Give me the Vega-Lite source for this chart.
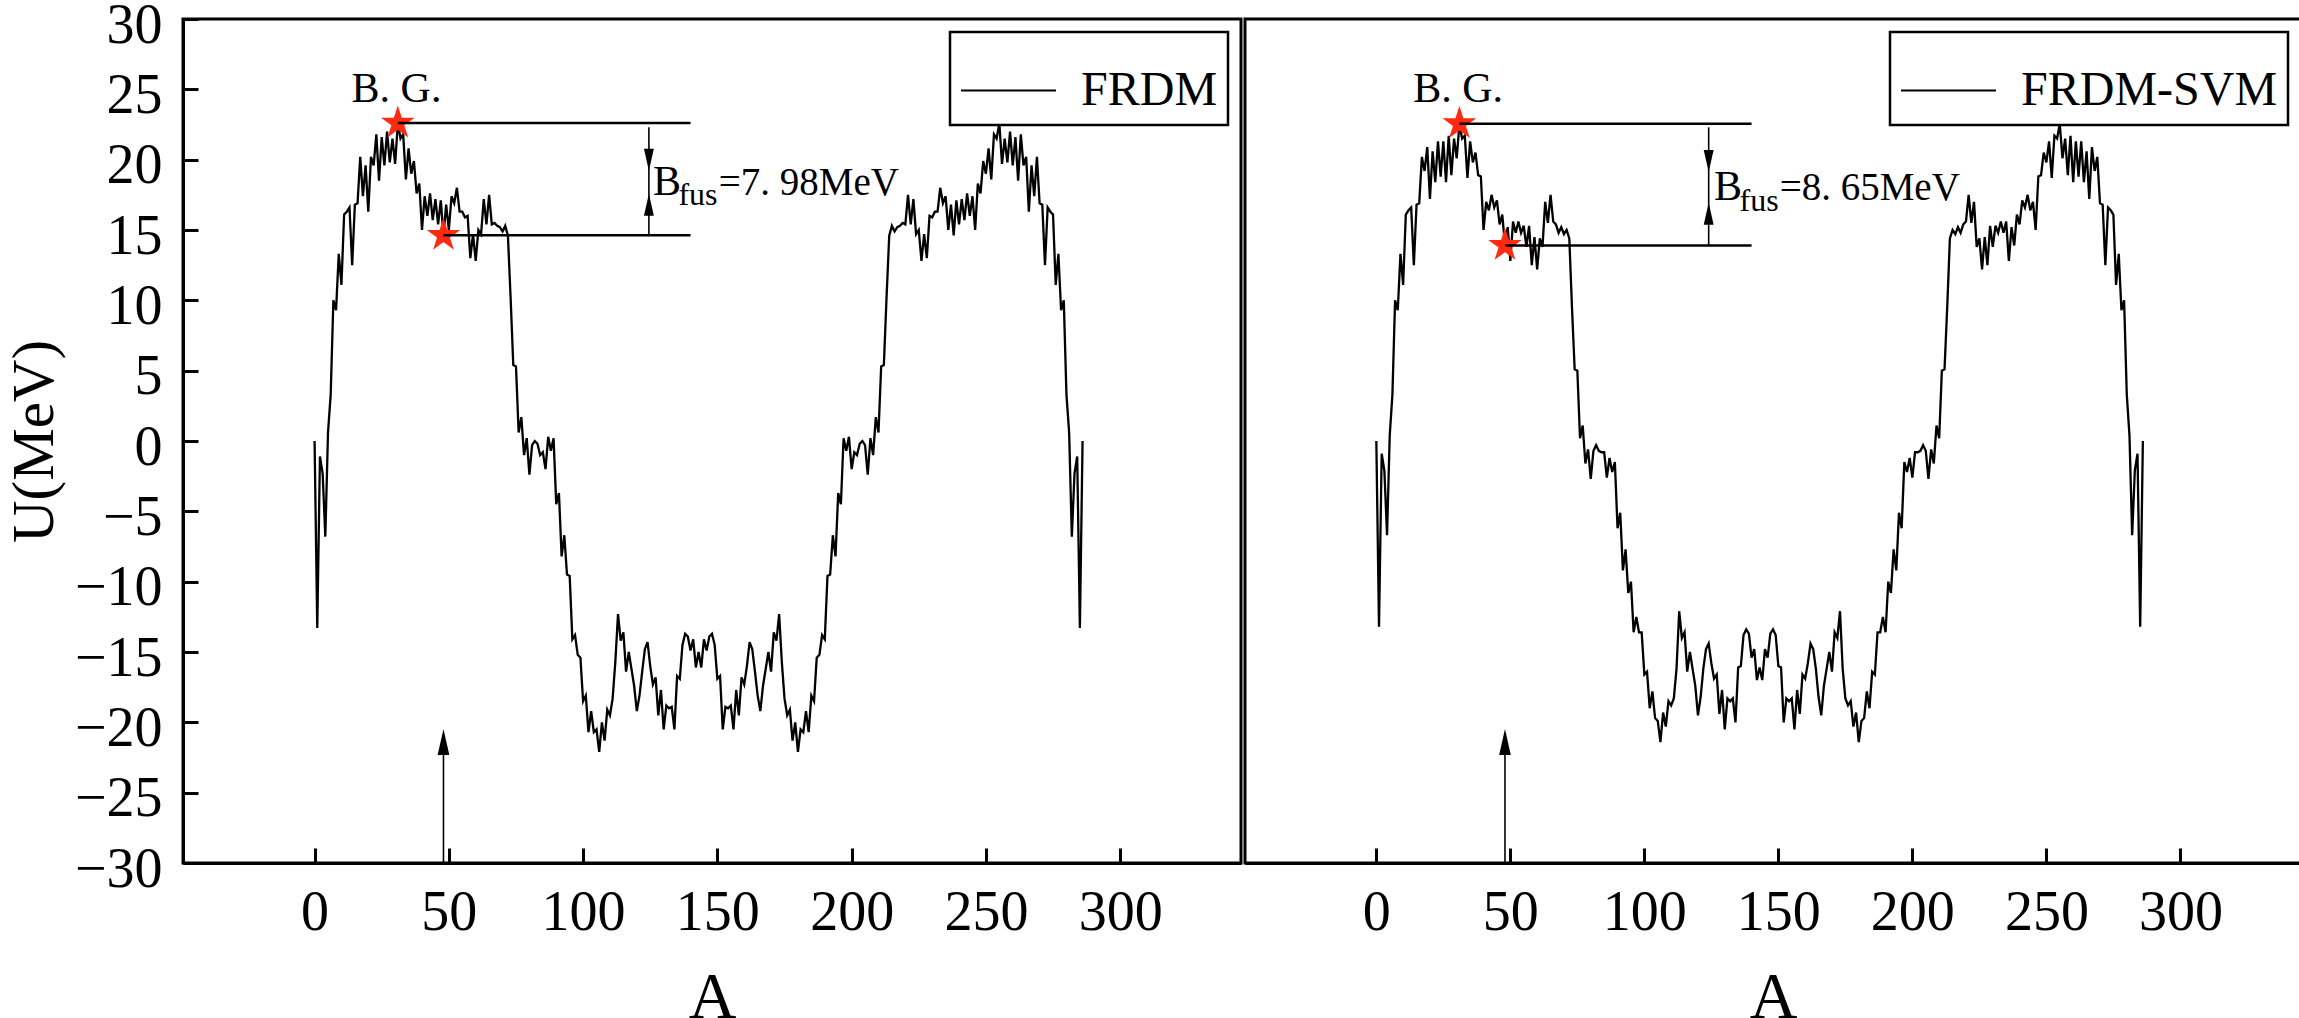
{
"$schema": "https://vega.github.io/schema/vega-lite/v6.json",
"background": "white",
"padding": {"left": 3, "top": -5, "right": 4, "bottom": -12},
"spacing": 0,
"resolve": {"scale": {"color": "independent"}, "legend": {"color": "independent"}},
"config": {
  "view": {"stroke": "black", "strokeWidth": 3},
  "axis": {"grid": false, "domainColor": "black", "domainWidth": 3, "tickColor": "black", "tickWidth": 3, "tickSize": -15,
           "labelFont": "Liberation Serif", "labelFontSize": 56, "labelColor": "black",
           "titleFont": "Liberation Serif", "titleColor": "black", "titleFontWeight": "normal"},
  "axisX": {"labelPadding": 37, "titleFontSize": 66, "titlePadding": 25},
  "axisY": {"labelPadding": 36, "labelOffset": 6, "titleFontSize": 59, "titlePadding": 10},
  "legend": {"orient": "top-right", "offset": 13, "strokeColor": "black", "strokeWidth": 2.5, "fillColor": "white", "padding": 10,
             "symbolType": "stroke", "symbolSize": 9025, "symbolStrokeWidth": 2, "symbolStrokeColor": "black",
             "labelFont": "Liberation Serif", "labelFontSize": 48, "labelColor": "black", "labelOffset": 24, "labelLimit": 0}
},
"datasets": {
  "frdm": [
    {"A":0,"U":0},{"A":1,"U":-13.3},{"A":2,"U":-1.1},{"A":3,"U":-2.3},{"A":4,"U":-6.8},{"A":5,"U":0.6},{"A":6,"U":3.3},{"A":7,"U":10.0},{"A":8,"U":9.3},{"A":9,"U":13.3},
    {"A":10,"U":11.1},{"A":11,"U":16.1},{"A":12,"U":16.3},{"A":13,"U":16.6},{"A":14,"U":12.5},{"A":15,"U":16.8},{"A":16,"U":16.9},{"A":17,"U":20.2},{"A":18,"U":17.4},{"A":19,"U":19.6},
    {"A":20,"U":16.3},{"A":21,"U":20.2},{"A":22,"U":19.6},{"A":23,"U":21.8},{"A":24,"U":18.5},{"A":25,"U":21.6},{"A":26,"U":19.6},{"A":27,"U":22.0},{"A":28,"U":19.8},{"A":29,"U":21.5},
    {"A":30,"U":19.7},{"A":31,"U":22.6},{"A":32,"U":21.5},{"A":33,"U":21.8},{"A":34,"U":18.6},{"A":35,"U":20.8},{"A":36,"U":19.0},{"A":37,"U":19.9},{"A":38,"U":17.6},{"A":39,"U":18.3},
    {"A":40,"U":15.0},{"A":41,"U":17.4},{"A":42,"U":16.0},{"A":43,"U":17.6},{"A":44,"U":15.7},{"A":45,"U":17.2},{"A":46,"U":15.4},{"A":47,"U":17.1},{"A":48,"U":14.62},{"A":49,"U":16.8},
    {"A":50,"U":15.0},{"A":51,"U":17.4},{"A":52,"U":16.9},{"A":53,"U":18.0},{"A":54,"U":16.3},{"A":55,"U":16.3},{"A":56,"U":15.9},{"A":57,"U":16.0},{"A":58,"U":13.0},{"A":59,"U":14.7},
    {"A":60,"U":12.8},{"A":61,"U":15.0},{"A":62,"U":14.7},{"A":63,"U":17.2},{"A":64,"U":15.4},{"A":65,"U":17.5},{"A":66,"U":15.4},{"A":67,"U":15.5},{"A":68,"U":15.3},{"A":69,"U":15.2},
    {"A":70,"U":14.9},{"A":71,"U":15.3},{"A":72,"U":14.6},{"A":73,"U":10.2},{"A":74,"U":5.4},{"A":75,"U":5.3},{"A":76,"U":0.6},{"A":77,"U":1.7},{"A":78,"U":-1.0},{"A":79,"U":0.2},
    {"A":80,"U":-2.4},{"A":81,"U":-0.3},{"A":82,"U":0.0},{"A":83,"U":-0.2},{"A":84,"U":-1.0},{"A":85,"U":-0.8},{"A":86,"U":-2.0},{"A":87,"U":0.3},{"A":88,"U":-0.7},{"A":89,"U":0.2},
    {"A":90,"U":-4.5},{"A":91,"U":-3.7},{"A":92,"U":-8.2},{"A":93,"U":-6.7},{"A":94,"U":-9.5},{"A":95,"U":-9.6},{"A":96,"U":-14.1},{"A":97,"U":-13.8},{"A":98,"U":-15.2},{"A":99,"U":-15.4},
    {"A":100,"U":-18.5},{"A":101,"U":-18.1},{"A":102,"U":-20.7},{"A":103,"U":-19.2},{"A":104,"U":-20.7},{"A":105,"U":-20.5},{"A":106,"U":-22.1},{"A":107,"U":-20.0},{"A":108,"U":-21.3},{"A":109,"U":-19.1},
    {"A":110,"U":-19.5},{"A":111,"U":-18.3},{"A":112,"U":-15.7},{"A":113,"U":-12.3},{"A":114,"U":-14.2},{"A":115,"U":-13.6},{"A":116,"U":-16.4},{"A":117,"U":-15.0},{"A":118,"U":-16.2},{"A":119,"U":-17.4},
    {"A":120,"U":-19.2},{"A":121,"U":-18.1},{"A":122,"U":-16.4},{"A":123,"U":-14.8},{"A":124,"U":-14.3},{"A":125,"U":-16.0},{"A":126,"U":-17.3},{"A":127,"U":-16.8},{"A":128,"U":-19.5},{"A":129,"U":-17.7},
    {"A":130,"U":-20.5},{"A":131,"U":-18.8},{"A":132,"U":-19.0},{"A":133,"U":-18.9},{"A":134,"U":-20.5},{"A":135,"U":-16.7},{"A":136,"U":-16.9},{"A":137,"U":-14.5},{"A":138,"U":-13.7},{"A":139,"U":-13.9},
    {"A":140,"U":-14.9},{"A":141,"U":-14.1},{"A":142,"U":-16.1},{"A":143,"U":-15.0},{"A":144,"U":-16.1},{"A":145,"U":-14.1},{"A":146,"U":-14.9},{"A":147,"U":-13.9},{"A":148,"U":-13.7},{"A":149,"U":-14.5},
    {"A":150,"U":-16.9},{"A":151,"U":-16.7},{"A":152,"U":-20.5},{"A":153,"U":-18.9},{"A":154,"U":-19.0},{"A":155,"U":-18.8},{"A":156,"U":-20.5},{"A":157,"U":-17.7},{"A":158,"U":-19.5},{"A":159,"U":-16.8},
    {"A":160,"U":-17.3},{"A":161,"U":-16.0},{"A":162,"U":-14.3},{"A":163,"U":-14.8},{"A":164,"U":-16.4},{"A":165,"U":-18.1},{"A":166,"U":-19.2},{"A":167,"U":-17.4},{"A":168,"U":-16.2},{"A":169,"U":-15.0},
    {"A":170,"U":-16.4},{"A":171,"U":-13.6},{"A":172,"U":-14.2},{"A":173,"U":-12.3},{"A":174,"U":-15.7},{"A":175,"U":-18.3},{"A":176,"U":-19.5},{"A":177,"U":-19.1},{"A":178,"U":-21.3},{"A":179,"U":-20.0},
    {"A":180,"U":-22.1},{"A":181,"U":-20.5},{"A":182,"U":-20.7},{"A":183,"U":-19.2},{"A":184,"U":-20.7},{"A":185,"U":-18.1},{"A":186,"U":-18.5},{"A":187,"U":-15.4},{"A":188,"U":-15.2},{"A":189,"U":-13.8},
    {"A":190,"U":-14.1},{"A":191,"U":-9.6},{"A":192,"U":-9.5},{"A":193,"U":-6.7},{"A":194,"U":-8.2},{"A":195,"U":-3.7},{"A":196,"U":-4.5},{"A":197,"U":0.2},{"A":198,"U":-0.7},{"A":199,"U":0.3},
    {"A":200,"U":-2.0},{"A":201,"U":-0.8},{"A":202,"U":-1.0},{"A":203,"U":-0.2},{"A":204,"U":0.0},{"A":205,"U":-0.3},{"A":206,"U":-2.4},{"A":207,"U":0.2},{"A":208,"U":-1.0},{"A":209,"U":1.7},
    {"A":210,"U":0.6},{"A":211,"U":5.3},{"A":212,"U":5.4},{"A":213,"U":10.2},{"A":214,"U":14.6},{"A":215,"U":15.3},{"A":216,"U":14.9},{"A":217,"U":15.2},{"A":218,"U":15.3},{"A":219,"U":15.5},
    {"A":220,"U":15.4},{"A":221,"U":17.5},{"A":222,"U":15.4},{"A":223,"U":17.2},{"A":224,"U":14.7},{"A":225,"U":15.0},{"A":226,"U":12.8},{"A":227,"U":14.7},{"A":228,"U":13.0},{"A":229,"U":16.0},
    {"A":230,"U":15.9},{"A":231,"U":16.3},{"A":232,"U":16.3},{"A":233,"U":18.0},{"A":234,"U":16.9},{"A":235,"U":17.4},{"A":236,"U":15.0},{"A":237,"U":16.8},{"A":238,"U":14.62},{"A":239,"U":17.1},
    {"A":240,"U":15.4},{"A":241,"U":17.2},{"A":242,"U":15.7},{"A":243,"U":17.6},{"A":244,"U":16.0},{"A":245,"U":17.4},{"A":246,"U":15.0},{"A":247,"U":18.3},{"A":248,"U":17.6},{"A":249,"U":19.9},
    {"A":250,"U":19.0},{"A":251,"U":20.8},{"A":252,"U":18.6},{"A":253,"U":21.8},{"A":254,"U":21.5},{"A":255,"U":22.6},{"A":256,"U":19.7},{"A":257,"U":21.5},{"A":258,"U":19.8},{"A":259,"U":22.0},
    {"A":260,"U":19.6},{"A":261,"U":21.6},{"A":262,"U":18.5},{"A":263,"U":21.8},{"A":264,"U":19.6},{"A":265,"U":20.2},{"A":266,"U":16.3},{"A":267,"U":19.6},{"A":268,"U":17.4},{"A":269,"U":20.2},
    {"A":270,"U":16.9},{"A":271,"U":16.8},{"A":272,"U":12.5},{"A":273,"U":16.6},{"A":274,"U":16.3},{"A":275,"U":16.1},{"A":276,"U":11.1},{"A":277,"U":13.3},{"A":278,"U":9.3},{"A":279,"U":10.0},
    {"A":280,"U":3.3},{"A":281,"U":0.6},{"A":282,"U":-6.8},{"A":283,"U":-2.3},{"A":284,"U":-1.1},{"A":285,"U":-13.3},{"A":286,"U":0}
  ],
  "svm": [
    {"A":0,"U":0},{"A":1,"U":-13.2},{"A":2,"U":-0.9},{"A":3,"U":-2.1},{"A":4,"U":-6.7},{"A":5,"U":0.4},{"A":6,"U":3.3},{"A":7,"U":10.0},{"A":8,"U":9.3},{"A":9,"U":13.3},
    {"A":10,"U":11.1},{"A":11,"U":16.1},{"A":12,"U":16.4},{"A":13,"U":16.6},{"A":14,"U":12.5},{"A":15,"U":16.8},{"A":16,"U":16.9},{"A":17,"U":20.2},{"A":18,"U":19.2},{"A":19,"U":20.9},
    {"A":20,"U":17.2},{"A":21,"U":20.6},{"A":22,"U":18.4},{"A":23,"U":21.3},{"A":24,"U":18.8},{"A":25,"U":21.3},{"A":26,"U":18.4},{"A":27,"U":21.7},{"A":28,"U":18.9},{"A":29,"U":21.5},
    {"A":30,"U":20.1},{"A":31,"U":22.55},{"A":32,"U":21.5},{"A":33,"U":21.7},{"A":34,"U":18.7},{"A":35,"U":21.3},{"A":36,"U":19.8},{"A":37,"U":20.5},{"A":38,"U":18.9},{"A":39,"U":18.8},
    {"A":40,"U":15.0},{"A":41,"U":17.0},{"A":42,"U":16.4},{"A":43,"U":17.5},{"A":44,"U":16.6},{"A":45,"U":17.1},{"A":46,"U":15.4},{"A":47,"U":16.1},{"A":48,"U":13.9},{"A":49,"U":15.2},
    {"A":50,"U":12.8},{"A":51,"U":15.6},{"A":52,"U":14.8},{"A":53,"U":15.6},{"A":54,"U":14.8},{"A":55,"U":15.3},{"A":56,"U":13.8},{"A":57,"U":15.3},{"A":58,"U":12.5},{"A":59,"U":14.5},
    {"A":60,"U":12.2},{"A":61,"U":14.4},{"A":62,"U":13.8},{"A":63,"U":17.0},{"A":64,"U":15.5},{"A":65,"U":17.5},{"A":66,"U":15.6},{"A":67,"U":15.4},{"A":68,"U":14.8},{"A":69,"U":15.2},
    {"A":70,"U":14.7},{"A":71,"U":15.0},{"A":72,"U":14.4},{"A":73,"U":9.5},{"A":74,"U":5.1},{"A":75,"U":5.0},{"A":76,"U":0.2},{"A":77,"U":1.1},{"A":78,"U":-1.6},{"A":79,"U":-0.6},
    {"A":80,"U":-2.7},{"A":81,"U":-0.7},{"A":82,"U":-0.3},{"A":83,"U":-0.7},{"A":84,"U":-0.8},{"A":85,"U":-0.8},{"A":86,"U":-2.6},{"A":87,"U":-1.2},{"A":88,"U":-2.2},{"A":89,"U":-1.5},
    {"A":90,"U":-6.2},{"A":91,"U":-5.1},{"A":92,"U":-9.2},{"A":93,"U":-7.7},{"A":94,"U":-10.8},{"A":95,"U":-10.0},{"A":96,"U":-13.6},{"A":97,"U":-12.5},{"A":98,"U":-13.6},{"A":99,"U":-13.6},
    {"A":100,"U":-16.6},{"A":101,"U":-16.4},{"A":102,"U":-19.0},{"A":103,"U":-17.8},{"A":104,"U":-19.7},{"A":105,"U":-19.9},{"A":106,"U":-21.4},{"A":107,"U":-19.3},{"A":108,"U":-20.3},{"A":109,"U":-18.5},
    {"A":110,"U":-18.8},{"A":111,"U":-18.3},{"A":112,"U":-16.2},{"A":113,"U":-12.1},{"A":114,"U":-14.0},{"A":115,"U":-13.6},{"A":116,"U":-16.4},{"A":117,"U":-15.0},{"A":118,"U":-16.2},{"A":119,"U":-17.4},
    {"A":120,"U":-19.5},{"A":121,"U":-18.2},{"A":122,"U":-16.2},{"A":123,"U":-14.8},{"A":124,"U":-14.4},{"A":125,"U":-15.8},{"A":126,"U":-16.9},{"A":127,"U":-16.6},{"A":128,"U":-19.4},{"A":129,"U":-17.7},
    {"A":130,"U":-20.5},{"A":131,"U":-18.3},{"A":132,"U":-18.5},{"A":133,"U":-18.3},{"A":134,"U":-20.0},{"A":135,"U":-16.1},{"A":136,"U":-16.0},{"A":137,"U":-13.8},{"A":138,"U":-13.4},{"A":139,"U":-13.7},
    {"A":140,"U":-15.4},{"A":141,"U":-14.8},{"A":142,"U":-17.0},{"A":143,"U":-16.1},{"A":144,"U":-17.0},{"A":145,"U":-14.8},{"A":146,"U":-15.4},{"A":147,"U":-13.7},{"A":148,"U":-13.4},{"A":149,"U":-13.8},
    {"A":150,"U":-16.0},{"A":151,"U":-16.1},{"A":152,"U":-20.0},{"A":153,"U":-18.3},{"A":154,"U":-18.5},{"A":155,"U":-18.3},{"A":156,"U":-20.5},{"A":157,"U":-17.7},{"A":158,"U":-19.4},{"A":159,"U":-16.6},
    {"A":160,"U":-16.9},{"A":161,"U":-15.8},{"A":162,"U":-14.4},{"A":163,"U":-14.8},{"A":164,"U":-16.2},{"A":165,"U":-18.2},{"A":166,"U":-19.5},{"A":167,"U":-17.4},{"A":168,"U":-16.2},{"A":169,"U":-15.0},
    {"A":170,"U":-16.4},{"A":171,"U":-13.6},{"A":172,"U":-14.0},{"A":173,"U":-12.1},{"A":174,"U":-16.2},{"A":175,"U":-18.3},{"A":176,"U":-18.8},{"A":177,"U":-18.5},{"A":178,"U":-20.3},{"A":179,"U":-19.3},
    {"A":180,"U":-21.4},{"A":181,"U":-19.9},{"A":182,"U":-19.7},{"A":183,"U":-17.8},{"A":184,"U":-19.0},{"A":185,"U":-16.4},{"A":186,"U":-16.6},{"A":187,"U":-13.6},{"A":188,"U":-13.6},{"A":189,"U":-12.5},
    {"A":190,"U":-13.6},{"A":191,"U":-10.0},{"A":192,"U":-10.8},{"A":193,"U":-7.7},{"A":194,"U":-9.2},{"A":195,"U":-5.1},{"A":196,"U":-6.2},{"A":197,"U":-1.5},{"A":198,"U":-2.2},{"A":199,"U":-1.2},
    {"A":200,"U":-2.6},{"A":201,"U":-0.8},{"A":202,"U":-0.8},{"A":203,"U":-0.7},{"A":204,"U":-0.3},{"A":205,"U":-0.7},{"A":206,"U":-2.7},{"A":207,"U":-0.6},{"A":208,"U":-1.6},{"A":209,"U":1.1},
    {"A":210,"U":0.2},{"A":211,"U":5.0},{"A":212,"U":5.1},{"A":213,"U":9.5},{"A":214,"U":14.4},{"A":215,"U":15.0},{"A":216,"U":14.7},{"A":217,"U":15.2},{"A":218,"U":14.8},{"A":219,"U":15.4},
    {"A":220,"U":15.6},{"A":221,"U":17.5},{"A":222,"U":15.5},{"A":223,"U":17.0},{"A":224,"U":13.8},{"A":225,"U":14.4},{"A":226,"U":12.2},{"A":227,"U":14.5},{"A":228,"U":12.5},{"A":229,"U":15.3},
    {"A":230,"U":13.8},{"A":231,"U":15.3},{"A":232,"U":14.8},{"A":233,"U":15.6},{"A":234,"U":14.8},{"A":235,"U":15.6},{"A":236,"U":12.8},{"A":237,"U":15.2},{"A":238,"U":13.9},{"A":239,"U":16.1},
    {"A":240,"U":15.4},{"A":241,"U":17.1},{"A":242,"U":16.6},{"A":243,"U":17.5},{"A":244,"U":16.4},{"A":245,"U":17.0},{"A":246,"U":15.0},{"A":247,"U":18.8},{"A":248,"U":18.9},{"A":249,"U":20.5},
    {"A":250,"U":19.8},{"A":251,"U":21.3},{"A":252,"U":18.7},{"A":253,"U":21.7},{"A":254,"U":21.5},{"A":255,"U":22.55},{"A":256,"U":20.1},{"A":257,"U":21.5},{"A":258,"U":18.9},{"A":259,"U":21.7},
    {"A":260,"U":18.4},{"A":261,"U":21.3},{"A":262,"U":18.8},{"A":263,"U":21.3},{"A":264,"U":18.4},{"A":265,"U":20.6},{"A":266,"U":17.2},{"A":267,"U":20.9},{"A":268,"U":19.2},{"A":269,"U":20.2},
    {"A":270,"U":16.9},{"A":271,"U":16.8},{"A":272,"U":12.5},{"A":273,"U":16.6},{"A":274,"U":16.4},{"A":275,"U":16.1},{"A":276,"U":11.1},{"A":277,"U":13.3},{"A":278,"U":9.3},{"A":279,"U":10.0},
    {"A":280,"U":3.3},{"A":281,"U":0.4},{"A":282,"U":-6.7},{"A":283,"U":-2.1},{"A":284,"U":-0.9},{"A":285,"U":-13.2},{"A":286,"U":0}
  ]
},
"hconcat": [
  {
    "width": 1058,
    "height": 844,
    "layer": [
      {
        "data": {"name": "frdm"},
        "mark": {"type": "line", "strokeWidth": 2.3},
        "encoding": {
          "x": {"field": "A", "type": "quantitative", "scale": {"domain": [-49, 345], "nice": false, "zero": false},
                "axis": {"values": [0, 50, 100, 150, 200, 250, 300], "title": "A"}},
          "y": {"field": "U", "type": "quantitative", "scale": {"domain": [-30, 30], "nice": false, "zero": false},
                "axis": {"values": [-30, -25, -20, -15, -10, -5, 0, 5, 10, 15, 20, 25, 30], "title": "U(MeV)"}},
          "color": {"datum": "FRDM", "type": "nominal", "scale": {"range": ["black"]}, "legend": {"title": null}}
        }
      },
      {
        "data": {"values": [{"A": 31, "U": 22.6}, {"A": 48, "U": 14.62}]},
        "mark": {"type": "point", "shape": "M0,-1L0.2245,-0.309L0.9511,-0.309L0.3633,0.118L0.5878,0.809L0,0.382L-0.5878,0.809L-0.3633,0.118L-0.9511,-0.309L-0.2245,-0.309Z", "filled": true, "color": "#ff2a10", "opacity": 1, "size": 1250},
        "encoding": {"x": {"field": "A", "type": "quantitative"}, "y": {"field": "U", "type": "quantitative"}}
      },
      {
        "data": {"values": [{"A": 31, "A2": 140, "U": 22.6}, {"A": 48, "A2": 140, "U": 14.62}]},
        "mark": {"type": "rule", "strokeWidth": 2.5, "color": "black"},
        "encoding": {"x": {"field": "A", "type": "quantitative"}, "x2": {"field": "A2"}, "y": {"field": "U", "type": "quantitative"}}
      },
      {
        "data": {"values": [{"A": 124.5, "U": 22.3, "U2": 14.62}, {"A": 48, "U": -30, "U2": -21}]},
        "mark": {"type": "rule", "strokeWidth": 1.6, "color": "black"},
        "encoding": {"x": {"field": "A", "type": "quantitative"}, "y": {"field": "U", "type": "quantitative"}, "y2": {"field": "U2"}}
      },
      {
        "data": {"values": [{"A": 124.5, "U": 20.0}]},
        "mark": {"type": "point", "shape": "M-0.45,-1L0.45,-1L0,1Z", "filled": true, "color": "black", "opacity": 1, "size": 484},
        "encoding": {"x": {"field": "A", "type": "quantitative"}, "y": {"field": "U", "type": "quantitative"}}
      },
      {
        "data": {"values": [{"A": 124.5, "U": 16.8, "s": 484}, {"A": 48, "U": -21.4, "s": 676}]},
        "mark": {"type": "point", "shape": "M-0.45,1L0.45,1L0,-1Z", "filled": true, "color": "black", "opacity": 1},
        "encoding": {"x": {"field": "A", "type": "quantitative"}, "y": {"field": "U", "type": "quantitative"},
                     "size": {"field": "s", "type": "quantitative", "scale": null, "legend": null}}
      },
      {
        "data": {"values": [{"A": 30.5, "U": 24.1, "t": "B. G."}]},
        "mark": {"type": "text", "font": "Liberation Serif", "fontSize": 42, "align": "center", "baseline": "alphabetic", "color": "black"},
        "encoding": {"x": {"field": "A", "type": "quantitative"}, "y": {"field": "U", "type": "quantitative"}, "text": {"field": "t"}}
      },
      {
        "data": {"values": [{"A": 126, "U": 17.49, "t": "B"}]},
        "mark": {"type": "text", "font": "Liberation Serif", "fontSize": 42, "align": "left", "baseline": "alphabetic", "color": "black"},
        "encoding": {"x": {"field": "A", "type": "quantitative"}, "y": {"field": "U", "type": "quantitative"}, "text": {"field": "t"}}
      },
      {
        "data": {"values": [{"A": 150.5, "U": 17.49, "t": "=7. 98MeV"}]},
        "mark": {"type": "text", "font": "Liberation Serif", "fontSize": 39, "align": "left", "baseline": "alphabetic", "color": "black"},
        "encoding": {"x": {"field": "A", "type": "quantitative"}, "y": {"field": "U", "type": "quantitative"}, "text": {"field": "t"}}
      },
      {
        "data": {"values": [{"A": 135.5, "U": 16.75, "t": "fus"}]},
        "mark": {"type": "text", "font": "Liberation Serif", "fontSize": 32, "align": "left", "baseline": "alphabetic", "color": "black"},
        "encoding": {"x": {"field": "A", "type": "quantitative"}, "y": {"field": "U", "type": "quantitative"}, "text": {"field": "t"}}
      }
    ]
  },
  {
    "width": 1056,
    "height": 844,
    "layer": [
      {
        "data": {"name": "svm"},
        "mark": {"type": "line", "strokeWidth": 2.3},
        "encoding": {
          "x": {"field": "A", "type": "quantitative", "scale": {"domain": [-49, 345], "nice": false, "zero": false},
                "axis": {"values": [0, 50, 100, 150, 200, 250, 300], "title": "A"}},
          "y": {"field": "U", "type": "quantitative", "scale": {"domain": [-30, 30], "nice": false, "zero": false}, "axis": null},
          "color": {"datum": "FRDM-SVM", "type": "nominal", "scale": {"range": ["black"]}, "legend": {"title": null}}
        }
      },
      {
        "data": {"values": [{"A": 31, "U": 22.55}, {"A": 48, "U": 13.9}]},
        "mark": {"type": "point", "shape": "M0,-1L0.2245,-0.309L0.9511,-0.309L0.3633,0.118L0.5878,0.809L0,0.382L-0.5878,0.809L-0.3633,0.118L-0.9511,-0.309L-0.2245,-0.309Z", "filled": true, "color": "#ff2a10", "opacity": 1, "size": 1250},
        "encoding": {"x": {"field": "A", "type": "quantitative"}, "y": {"field": "U", "type": "quantitative"}}
      },
      {
        "data": {"values": [{"A": 31, "A2": 140, "U": 22.55}, {"A": 48, "A2": 140, "U": 13.9}]},
        "mark": {"type": "rule", "strokeWidth": 2.5, "color": "black"},
        "encoding": {"x": {"field": "A", "type": "quantitative"}, "x2": {"field": "A2"}, "y": {"field": "U", "type": "quantitative"}}
      },
      {
        "data": {"values": [{"A": 124, "U": 22.3, "U2": 13.9}, {"A": 48, "U": -30, "U2": -21}]},
        "mark": {"type": "rule", "strokeWidth": 1.6, "color": "black"},
        "encoding": {"x": {"field": "A", "type": "quantitative"}, "y": {"field": "U", "type": "quantitative"}, "y2": {"field": "U2"}}
      },
      {
        "data": {"values": [{"A": 124, "U": 19.9}]},
        "mark": {"type": "point", "shape": "M-0.45,-1L0.45,-1L0,1Z", "filled": true, "color": "black", "opacity": 1, "size": 484},
        "encoding": {"x": {"field": "A", "type": "quantitative"}, "y": {"field": "U", "type": "quantitative"}}
      },
      {
        "data": {"values": [{"A": 124, "U": 16.15, "s": 484}, {"A": 48, "U": -21.4, "s": 676}]},
        "mark": {"type": "point", "shape": "M-0.45,1L0.45,1L0,-1Z", "filled": true, "color": "black", "opacity": 1},
        "encoding": {"x": {"field": "A", "type": "quantitative"}, "y": {"field": "U", "type": "quantitative"},
                     "size": {"field": "s", "type": "quantitative", "scale": null, "legend": null}}
      },
      {
        "data": {"values": [{"A": 30.5, "U": 24.1, "t": "B. G."}]},
        "mark": {"type": "text", "font": "Liberation Serif", "fontSize": 42, "align": "center", "baseline": "alphabetic", "color": "black"},
        "encoding": {"x": {"field": "A", "type": "quantitative"}, "y": {"field": "U", "type": "quantitative"}, "text": {"field": "t"}}
      },
      {
        "data": {"values": [{"A": 126, "U": 17.1, "t": "B"}]},
        "mark": {"type": "text", "font": "Liberation Serif", "fontSize": 42, "align": "left", "baseline": "alphabetic", "color": "black"},
        "encoding": {"x": {"field": "A", "type": "quantitative"}, "y": {"field": "U", "type": "quantitative"}, "text": {"field": "t"}}
      },
      {
        "data": {"values": [{"A": 150.5, "U": 17.1, "t": "=8. 65MeV"}]},
        "mark": {"type": "text", "font": "Liberation Serif", "fontSize": 39, "align": "left", "baseline": "alphabetic", "color": "black"},
        "encoding": {"x": {"field": "A", "type": "quantitative"}, "y": {"field": "U", "type": "quantitative"}, "text": {"field": "t"}}
      },
      {
        "data": {"values": [{"A": 135.5, "U": 16.36, "t": "fus"}]},
        "mark": {"type": "text", "font": "Liberation Serif", "fontSize": 32, "align": "left", "baseline": "alphabetic", "color": "black"},
        "encoding": {"x": {"field": "A", "type": "quantitative"}, "y": {"field": "U", "type": "quantitative"}, "text": {"field": "t"}}
      }
    ]
  }
]
}
